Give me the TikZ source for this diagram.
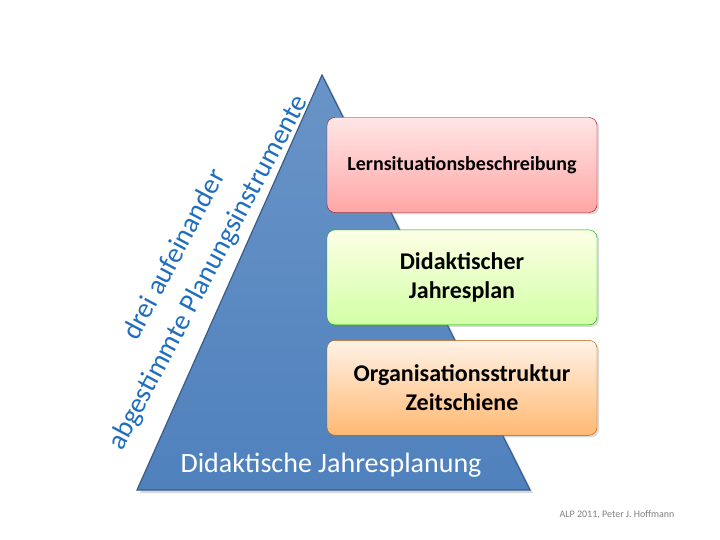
\documentclass[tikz,border=0pt]{standalone}
\usepackage{fontspec}
\setmainfont{Carlito}
\usetikzlibrary{positioning,shadows}
\definecolor{triblue}{RGB}{79,129,189}
\definecolor{tribluedark}{RGB}{56,93,138}
\definecolor{textblue}{RGB}{31,110,190}
\tikzset{
  planbox/.style={draw=#1!70!black, rounded corners=8pt, minimum width=270pt,
    minimum height=95pt, align=center, font=\fontsize{24}{29}\selectfont\bfseries,
    drop shadow={shadow xshift=2pt, shadow yshift=-2pt, opacity=0.3}}
}
\begin{document}
\begin{tikzpicture}[x=1pt,y=-1pt]
   \useasboundingbox (0,0) rectangle (720,540);
   % pyramid
   \coordinate (apex) at (322,75);
   \coordinate (baseL) at (137,490);
   \coordinate (baseR) at (530,490);
   \shade[top color=triblue!85, bottom color=triblue, draw=tribluedark, line width=1.2pt,
     drop shadow={shadow xshift=3pt, shadow yshift=-3pt, opacity=0.3}]
     (apex) -- (baseR) -- (baseL) -- cycle;
   \node[text=white, font=\fontsize{28}{33}\selectfont] (base) at (331,465) {Didaktische Jahresplanung};
   % boxes
   \node[planbox=red, top color=red!10, bottom color=red!35] (b1) at (462,165)
     {\fontsize{20}{24}\selectfont Lernsituationsbeschreibung};
   \node[planbox=green, top color=green!10!yellow!10, bottom color=green!50!yellow!35, below=17pt of b1] (b2)
     {Didaktischer\\Jahresplan};
   \node[planbox=orange, top color=orange!10, bottom color=orange!55, below=15pt of b2] (b3)
     {Organisationsstruktur\\Zeitschiene};
   % side text
   \node[text=textblue, rotate=62, align=center, font=\fontsize{28}{38}\selectfont] (side) at (192,264)
     {drei aufeinander\\abgestimmte Planungsinstrumente};
   \node[text=gray, font=\fontsize{10}{12}\selectfont, anchor=east] (credit) at (678,515)
     {ALP 2011, Peter J. Hoffmann};
\end{tikzpicture}
\end{document}
